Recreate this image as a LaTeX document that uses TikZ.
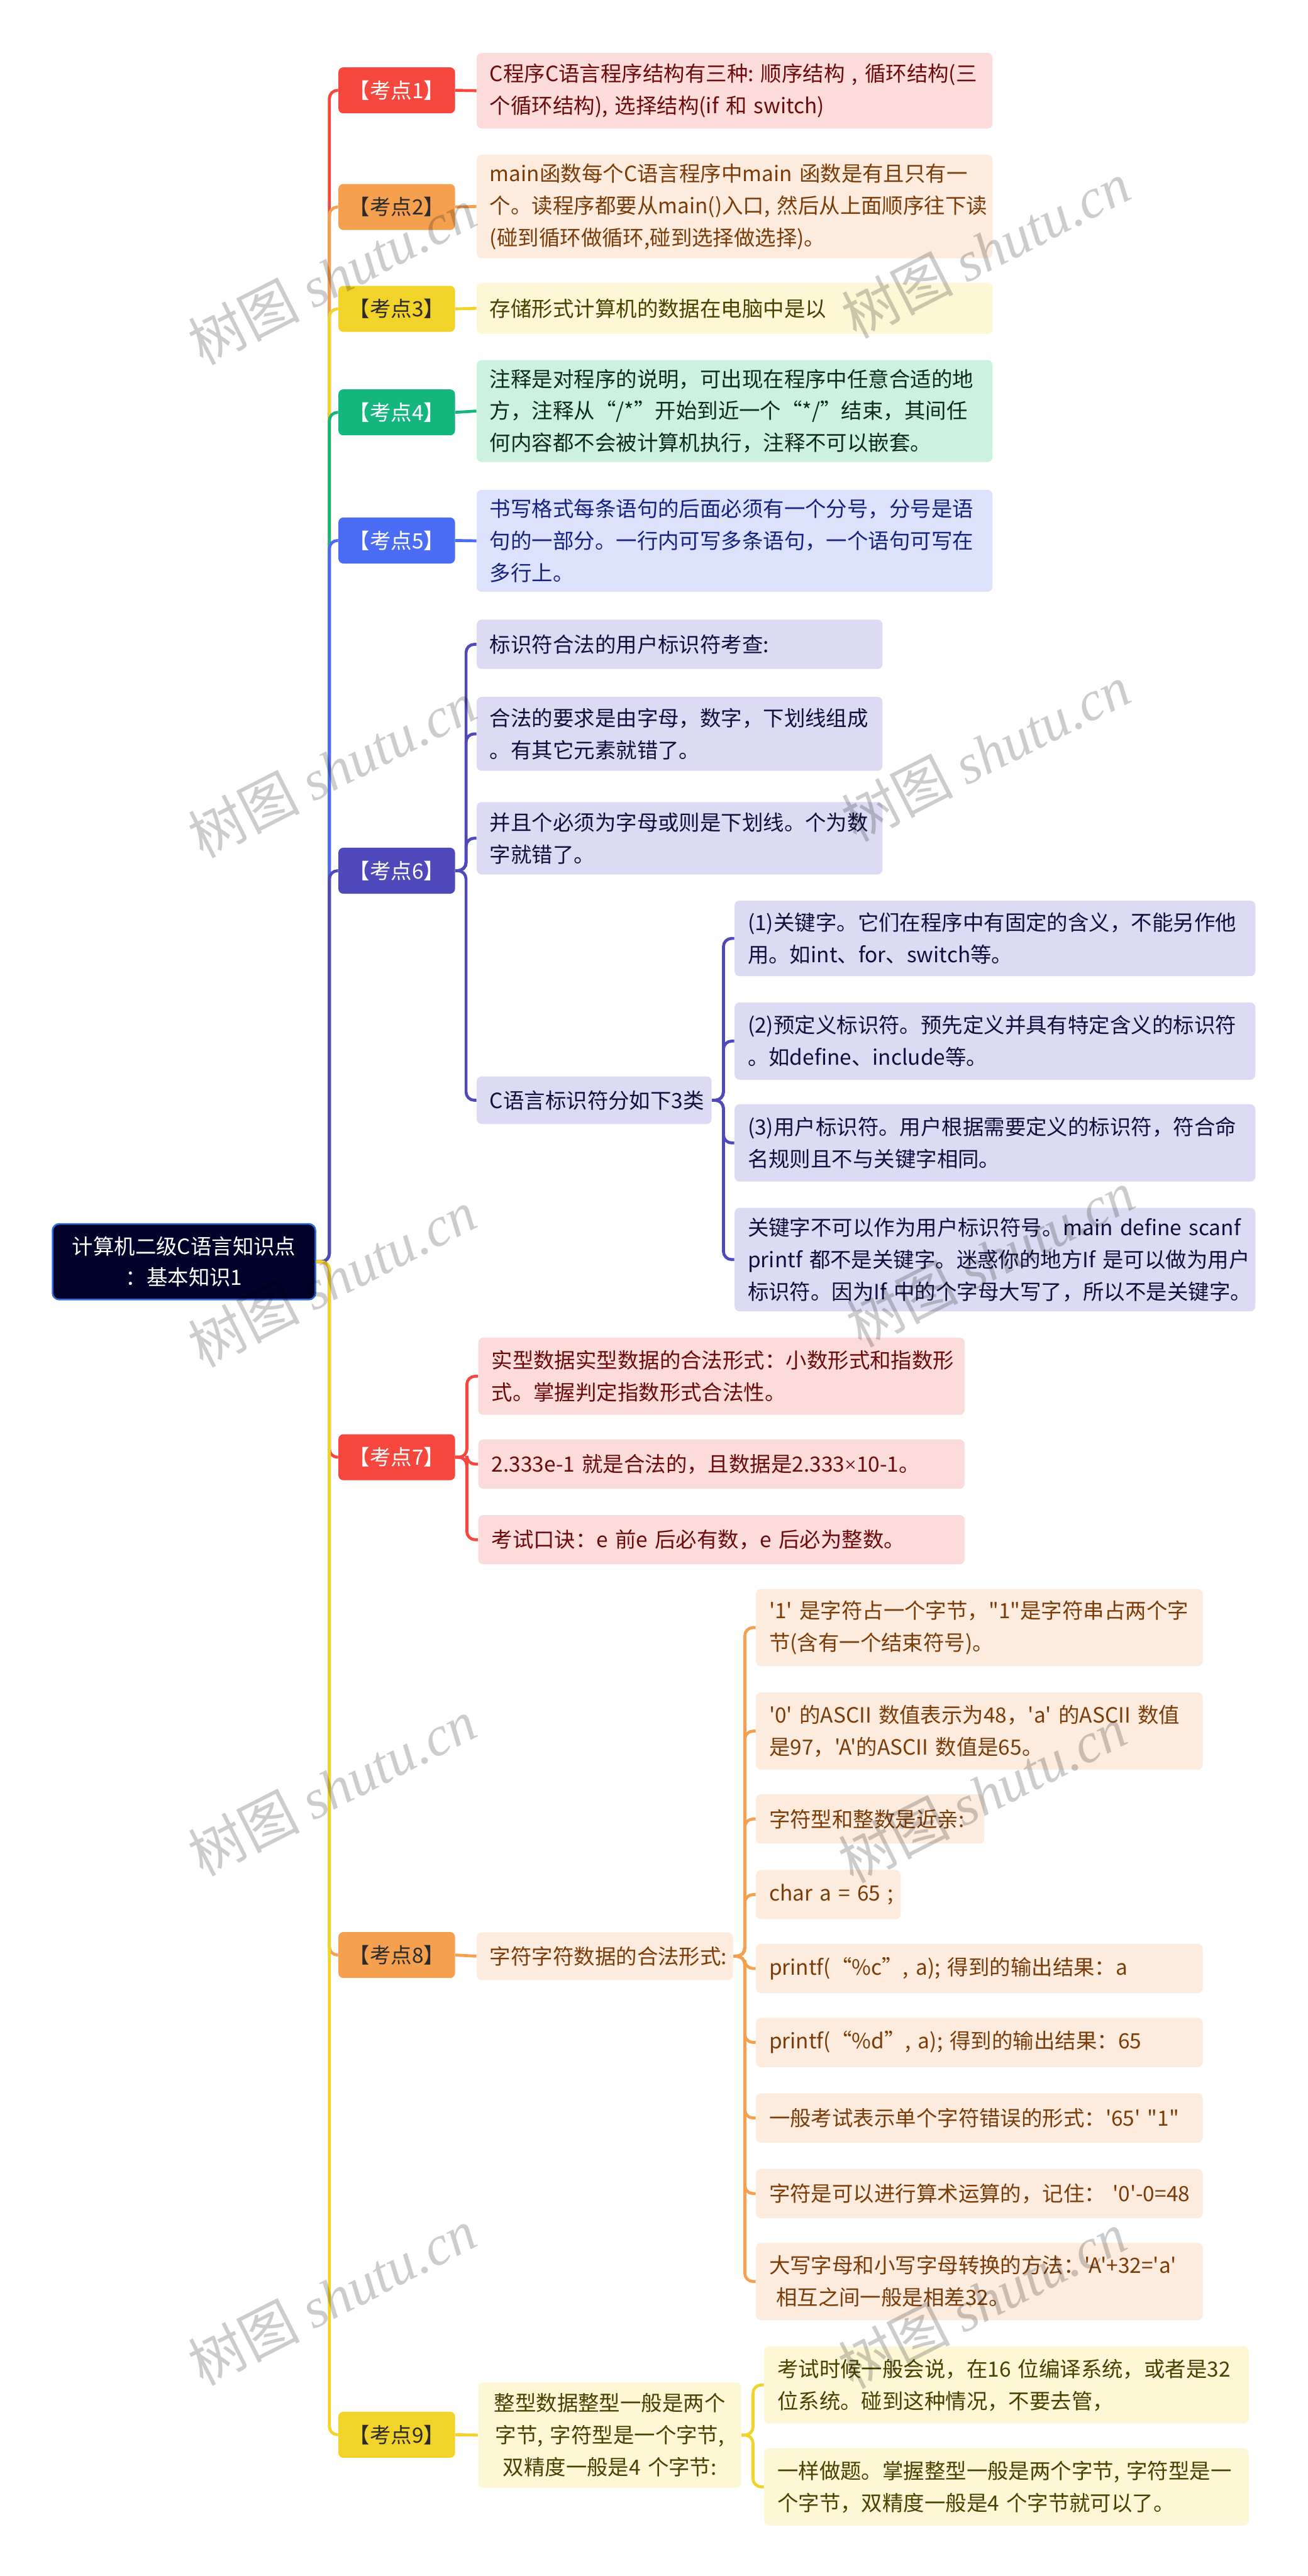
\documentclass[tikz,border=0pt]{standalone}
\usepackage{fontspec}
\newfontfamily\cjk{Noto Sans CJK SC}
\newfontfamily\wmserif{Liberation Serif}
\definecolor{Rm}{HTML}{F5473D}\definecolor{Rl}{HTML}{FCDBDB}\definecolor{Rt}{HTML}{6B0B0B}
\definecolor{Om}{HTML}{F5A04E}\definecolor{Ol}{HTML}{FDECDE}\definecolor{Ot}{HTML}{7A3C08}
\definecolor{Ym}{HTML}{F2D32A}\definecolor{Yl}{HTML}{FDF7D6}\definecolor{Yt}{HTML}{4A4000}
\definecolor{Gm}{HTML}{15B67D}\definecolor{Gl}{HTML}{CDF1E1}\definecolor{Gt}{HTML}{0E2A1E}
\definecolor{Bm}{HTML}{4B6DF6}\definecolor{Bl}{HTML}{DCE2FC}\definecolor{Bt}{HTML}{17227E}
\definecolor{Im}{HTML}{5049BB}\definecolor{Il}{HTML}{DCDBF3}\definecolor{It}{HTML}{100F3E}
\definecolor{darktxt}{HTML}{2B2B2B}
\definecolor{rootf}{HTML}{00022A}\definecolor{rootb}{HTML}{2F6BD8}
\hyphenpenalty=10000\relax
\exhyphenpenalty=10000\relax
\tikzset{
  conn/.style={line width=1.8pt, rounded corners=5pt},
  rootbox/.style={draw=rootb, line width=1pt, fill=rootf, text=white, rounded corners=4pt,
    minimum width=160pt, minimum height=46pt, inner sep=0pt, align=center,
    font=\cjk\fontsize{12.8}{19}\selectfont},
  lone/.style={minimum width=71pt, minimum height=28pt, inner sep=0pt, rounded corners=3pt,
    font=\cjk\fontsize{12.8}{15}\selectfont},
  cbox/.style={anchor=north west, rounded corners=3pt, inner xsep=8pt, inner ysep=0pt, align=left,
    font=\cjk\fontsize{12.8}{19.5}\selectfont},
  wm/.style={rotate=27, text=black, text opacity=0.2, inner sep=0pt,
    font=\cjk\fontsize{34}{34}\selectfont}
}
\newcommand\nbs{\nobreakspace}
\begin{document}
\begin{tikzpicture}[x=1pt,y=-1pt]
\useasboundingbox (0,0) rectangle (796,1568);
\fill[white] (0,0) rectangle (796,1568);

% root
\node[rootbox] (root) at (112,768) {计算机二级C语言知识点\\：基本知识1};

% level 1
\node[lone, fill=Rm, text=white] (k1) at (241.5,55) {【考点1】};
\node[lone, fill=Om, text=darktxt] (k2) at (241.5,126) {【考点2】};
\node[lone, fill=Ym, text=darktxt] (k3) at (241.5,188) {【考点3】};
\node[lone, fill=Gm, text=white] (k4) at (241.5,251) {【考点4】};
\node[lone, fill=Bm, text=white] (k5) at (241.5,329) {【考点5】};
\node[lone, fill=Im, text=white] (k6) at (241.5,530) {【考点6】};
\node[lone, fill=Rm, text=white] (k7) at (241.5,887) {【考点7】};
\node[lone, fill=Om, text=darktxt] (k8) at (241.5,1190) {【考点8】};
\node[lone, fill=Ym, text=darktxt] (k9) at (241.5,1482) {【考点9】};

% level 2
\node[cbox, fill=Rl, text=Rt, text width=298pt, minimum height=46pt] (c1) at (290,32)
 {C程序C语言程序结构有三种:\nbs 顺序结构\nbs ,\nbs 循环结构(三\\个循环结构),\nbs 选择结构(if\nbs 和\nbs switch)};
\node[cbox, fill=Ol, text=Ot, text width=298pt, minimum height=63pt] (c2) at (290,94)
 {main函数每个C语言程序中main\nbs 函数是有且只有一\\个。读程序都要从main()入口,\nbs 然后从上面顺序往下读\\(碰到循环做循环,碰到选择做选择)。};
\node[cbox, fill=Yl, text=Yt, text width=298pt, minimum height=31pt] (c3) at (290,172)
 {存储形式计算机的数据在电脑中是以};
\node[cbox, fill=Gl, text=Gt, text width=298pt, minimum height=62pt] (c4) at (290,219)
 {注释是对程序的说明，可出现在程序中任意合适的地\\方，注释从“/*”开始到近一个“*/”结束，其间任\\何内容都不会被计算机执行，注释不可以嵌套。};
\node[cbox, fill=Bl, text=Bt, text width=298pt, minimum height=62pt] (c5) at (290,298)
 {书写格式每条语句的后面必须有一个分号，分号是语\\句的一部分。一行内可写多条语句，一个语句可写在\\多行上。};

% branch 6
\node[cbox, fill=Il, text=It, text width=231pt, minimum height=30pt] (c6a) at (290,377)
 {标识符合法的用户标识符考查:};
\node[cbox, fill=Il, text=It, text width=231pt, minimum height=45pt] (c6b) at (290,424)
 {合法的要求是由字母，数字，下划线组成\\。有其它元素就错了。};
\node[cbox, fill=Il, text=It, text width=231pt, minimum height=44pt] (c6c) at (290,488)
 {并且个必须为字母或则是下划线。个为数\\字就错了。};
\node[cbox, fill=Il, text=It, text width=127pt, minimum height=29pt] (c6d) at (290,655)
 {C语言标识符分如下3类};
\node[cbox, fill=Il, text=It, text width=301pt, minimum height=46pt] (c6d1) at (447,548)
 {(1)关键字。它们在程序中有固定的含义，不能另作他\\用。如int、for、switch等。};
\node[cbox, fill=Il, text=It, text width=301pt, minimum height=47pt] (c6d2) at (447,610)
 {(2)预定义标识符。预先定义并具有特定含义的标识符\\。如define、include等。};
\node[cbox, fill=Il, text=It, text width=301pt, minimum height=47pt] (c6d3) at (447,672)
 {(3)用户标识符。用户根据需要定义的标识符，符合命\\名规则且不与关键字相同。};
\node[cbox, fill=Il, text=It, text width=301pt, minimum height=63pt] (c6d4) at (447,735)
 {关键字不可以作为用户标识符号。main\nbs define\nbs scanf\\printf\nbs 都不是关键字。迷惑你的地方If\nbs 是可以做为用户\\标识符。因为If\nbs 中的个字母大写了，所以不是关键字。};

% branch 7
\node[cbox, fill=Rl, text=Rt, text width=280pt, minimum height=47pt] (c7a) at (291,814)
 {实型数据实型数据的合法形式：小数形式和指数形\\式。掌握判定指数形式合法性。};
\node[cbox, fill=Rl, text=Rt, text width=280pt, minimum height=30pt] (c7b) at (291,876)
 {2.333e-1\nbs 就是合法的，且数据是2.333{\wmserif ×}10-1。};
\node[cbox, fill=Rl, text=Rt, text width=280pt, minimum height=30pt] (c7c) at (291,922)
 {考试口诀：e\nbs 前e\nbs 后必有数，e\nbs 后必为整数。};

% branch 8
\node[cbox, fill=Ol, text=Ot, text width=140pt, minimum height=29pt] (c8) at (290,1176)
 {字符字符数据的合法形式:};
\node[cbox, fill=Ol, text=Ot, text width=256pt, minimum height=47pt] (c8a) at (460,967)
 {'1'\nbs 是字符占一个字节，"1"是字符串占两个字\\节(含有一个结束符号)。};
\node[cbox, fill=Ol, text=Ot, text width=256pt, minimum height=47pt] (c8b) at (460,1030)
 {'0'\nbs 的ASCII\nbs 数值表示为48，'a'\nbs 的ASCII\nbs 数值\\是97，'A'的ASCII\nbs 数值是65。};
\node[cbox, fill=Ol, text=Ot, text width=123pt, minimum height=30pt] (c8c) at (460,1092)
 {字符型和整数是近亲:};
\node[cbox, fill=Ol, text=Ot, text width=72pt, minimum height=30pt] (c8d) at (460,1138)
 {char\nbs a\nbs =\nbs 65\nbs ;};
\node[cbox, fill=Ol, text=Ot, text width=256pt, minimum height=30pt] (c8e) at (460,1183)
 {printf(“\%c”,\nbs a);\nbs 得到的输出结果：a};
\node[cbox, fill=Ol, text=Ot, text width=256pt, minimum height=30pt] (c8f) at (460,1228)
 {printf(“\%d”,\nbs a);\nbs 得到的输出结果：65};
\node[cbox, fill=Ol, text=Ot, text width=256pt, minimum height=30pt] (c8g) at (460,1274)
 {一般考试表示单个字符错误的形式：'65'\nbs "1"};
\node[cbox, fill=Ol, text=Ot, text width=256pt, minimum height=30pt] (c8h) at (460,1320)
 {字符是可以进行算术运算的，记住：\nbs '0'-0=48};
\node[cbox, fill=Ol, text=Ot, text width=256pt, minimum height=47pt] (c8i) at (460,1365)
 {大写字母和小写字母转换的方法：'A'+32='a'\\\nbs 相互之间一般是相差32。};

% branch 9
\node[cbox, fill=Yl, text=Yt, text width=144pt, minimum height=64pt, align=center] (c9) at (291,1450)
 {整型数据整型一般是两个\\字节,\nbs 字符型是一个字节,\\双精度一般是4\nbs 个字节:};
\node[cbox, fill=Yl, text=Yt, text width=279pt, minimum height=47pt] (c9a) at (465,1428)
 {考试时候一般会说，在16\nbs 位编译系统，或者是32\\位系统。碰到这种情况，不要去管，};
\node[cbox, fill=Yl, text=Yt, text width=279pt, minimum height=47pt] (c9b) at (465,1490)
 {一样做题。掌握整型一般是两个字节,\nbs 字符型是一\\个字节，双精度一般是4\nbs 个字节就可以了。};

% connectors root -> level 1
\draw[conn, Rm] (root.east) -- ++(8,0) |- (k1.west);
\draw[conn, Om] (root.east) -- ++(8,0) |- (k2.west);
\draw[conn, Ym] (root.east) -- ++(8,0) |- (k3.west);
\draw[conn, Gm] (root.east) -- ++(8,0) |- (k4.west);
\draw[conn, Bm] (root.east) -- ++(8,0) |- (k5.west);
\draw[conn, Im] (root.east) -- ++(8,0) |- (k6.west);
\draw[conn, Rm] (root.east) -- ++(8,0) |- (k7.west);
\draw[conn, Om] (root.east) -- ++(8,0) |- (k8.west);
\draw[conn, Ym] (root.east) -- ++(8,0) |- (k9.west);

% level 1 -> level 2
\draw[conn, Rm] (k1.east) -- (c1.west);
\draw[conn, Om] (k2.east) -- (c2.west);
\draw[conn, Ym] (k3.east) -- (c3.west);
\draw[conn, Gm] (k4.east) -- (c4.west);
\draw[conn, Bm] (k5.east) -- (c5.west);
\foreach \t in {c6a,c6b,c6c,c6d} \draw[conn, Im] (k6.east) -- ++(6.5,0) |- (\t.west);
\foreach \t in {c6d1,c6d2,c6d3,c6d4} \draw[conn, Im] (c6d.east) -- ++(7,0) |- (\t.west);
\foreach \t in {c7a,c7b,c7c} \draw[conn, Rm] (k7.east) -- ++(7,0) |- (\t.west);
\draw[conn, Om] (k8.east) -- (c8.west);
\foreach \t in {c8a,c8b,c8c,c8d,c8e,c8f,c8g,c8h,c8i} \draw[conn, Om] (c8.east) -- ++(7,0) |- (\t.west);
\draw[conn, Ym] (k9.east) -- (c9.west);
\foreach \t in {c9a,c9b} \draw[conn, Ym] (c9.east) -- ++(7,0) |- (\t.west);

% watermarks
\node[wm] (wm1) at (202,168) {树图 {\wmserif\itshape shutu.cn}};
\node[wm] (wm2) at (600,152) {树图 {\wmserif\itshape shutu.cn}};
\node[wm] (wm3) at (202,468) {树图 {\wmserif\itshape shutu.cn}};
\node[wm] (wm4) at (600,458) {树图 {\wmserif\itshape shutu.cn}};
\node[wm] (wm5) at (202,778) {树图 {\wmserif\itshape shutu.cn}};
\node[wm] (wm6) at (603,766) {树图 {\wmserif\itshape shutu.cn}};
\node[wm] (wm7) at (202,1088) {树图 {\wmserif\itshape shutu.cn}};
\node[wm] (wm8) at (598,1092) {树图 {\wmserif\itshape shutu.cn}};
\node[wm] (wm9) at (202,1398) {树图 {\wmserif\itshape shutu.cn}};
\node[wm] (wm10) at (598,1400) {树图 {\wmserif\itshape shutu.cn}};
\end{tikzpicture}
\end{document}
